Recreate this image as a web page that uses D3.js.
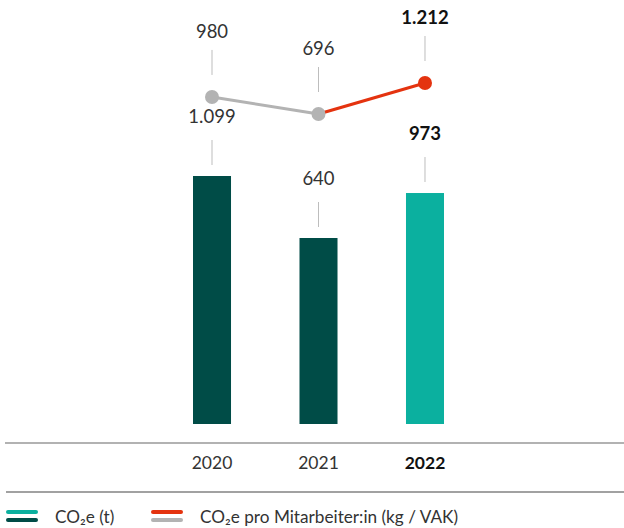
<!DOCTYPE html>
<html><head><meta charset="utf-8">
<script src="https://cdn.jsdelivr.net/npm/d3@7"></script>
<style>body{margin:0;background:#fff;} svg{display:block;font-family:Lato,"Open Sans",sans-serif;}</style>
</head><body>
<svg id="c" width="624" height="528"></svg>
<script>
const years = ["2020", "2021", "2022"];
const co2Total = [1099, 640, 973];          // CO2e (t)
const co2PerEmployee = [980, 696, 1212];    // kg / VAK
const valueLabels = ["1.099", "640", "973"];
const perLabels = ["980", "696", "1.212"];
const highlight = [false, false, true];
const legendLabels = ["CO₂e (t)", "CO₂e pro Mitarbeiter:in (kg / VAK)"];

const svg = d3.select("#c");
const x = d3.scaleBand().domain(years).range([193, 444]).paddingInner(0.643).paddingOuter(0);
const yBar = d3.scaleLinear().domain([-737, 1099]).range([424, 176]);
const yLine = d3.scaleLinear().domain([696, 1212]).range([114, 83]);
const cx = d => x(d) + x.bandwidth() / 2;

const dark = "#004c47", teal = "#0bb09f", red = "#e4330f", grey = "#b3b3b3";

// bars
svg.selectAll("rect.bar").data(years).join("rect")
  .attr("x", d => x(d)).attr("width", x.bandwidth())
  .attr("y", (d, i) => yBar(co2Total[i]))
  .attr("height", (d, i) => yBar.range()[0] - yBar(co2Total[i]))
  .attr("fill", (d, i) => highlight[i] ? teal : dark);

// bar labels + leader lines
years.forEach((d, i) => {
  const top = yBar(co2Total[i]);
  svg.append("line").attr("x1", cx(d)).attr("x2", cx(d)).attr("y1", top - 36).attr("y2", top - 11)
    .attr("stroke", "#bdbdbd").attr("stroke-width", 1);
  svg.append("text").attr("x", cx(d)).attr("y", top - 59).attr("dy", "0.35em")
    .attr("text-anchor", "middle").attr("font-size", 18.5)
    .attr("font-weight", highlight[i] ? 700 : 400)
    .attr("fill", highlight[i] ? "#111" : "#333").text(valueLabels[i]);
});

// line segments
for (let i = 0; i < years.length - 1; i++) {
  svg.append("line")
    .attr("x1", cx(years[i])).attr("y1", yLine(co2PerEmployee[i]))
    .attr("x2", cx(years[i + 1])).attr("y2", yLine(co2PerEmployee[i + 1]))
    .attr("stroke", highlight[i + 1] ? red : grey).attr("stroke-width", 3);
}
years.forEach((d, i) => {
  const py = yLine(co2PerEmployee[i]);
  svg.append("circle").attr("cx", cx(d)).attr("cy", py).attr("r", 7)
    .attr("fill", highlight[i] ? red : grey);
  svg.append("line").attr("x1", cx(d)).attr("x2", cx(d)).attr("y1", py - 47).attr("y2", py - 22)
    .attr("stroke", "#bdbdbd").attr("stroke-width", 1);
  svg.append("text").attr("x", cx(d)).attr("y", py - 65).attr("dy", "0.35em")
    .attr("text-anchor", "middle").attr("font-size", 18.5)
    .attr("font-weight", highlight[i] ? 700 : 400)
    .attr("fill", highlight[i] ? "#111" : "#333").text(perLabels[i]);
});

// axis
svg.append("line").attr("x1", 5).attr("x2", 624).attr("y1", 443).attr("y2", 443)
  .attr("stroke", "#666").attr("stroke-width", 1.2);
const ax = svg.append("g").attr("transform", "translate(0,443)")
  .call(d3.axisBottom(x).tickSize(0).tickPadding(14));
ax.select(".domain").remove();
ax.selectAll("text").attr("font-size", 17.5).attr("font-family", "Lato, sans-serif")
  .attr("fill", (d, i) => highlight[i] ? "#111" : "#333")
  .attr("font-weight", (d, i) => highlight[i] ? 700 : 400);

svg.append("line").attr("x1", 6).attr("x2", 624).attr("y1", 492).attr("y2", 492)
  .attr("stroke", "#444").attr("stroke-width", 1.2);

// legend
const legendColors = [[teal, dark], [red, grey]];
const lx = [7, 152];
legendLabels.forEach((t, i) => {
  legendColors[i].forEach((c, j) => {
    svg.append("line").attr("x1", lx[i] + 1).attr("x2", lx[i] + 29)
      .attr("y1", 512 + j * 8).attr("y2", 512 + j * 8)
      .attr("stroke", c).attr("stroke-width", 4).attr("stroke-linecap", "round");
  });
  svg.append("text").attr("x", lx[i] + 48).attr("y", 517).attr("dy", "0.35em")
    .attr("font-size", 17.2).attr("fill", "#333").text(t);
});
</script>
</body></html>
